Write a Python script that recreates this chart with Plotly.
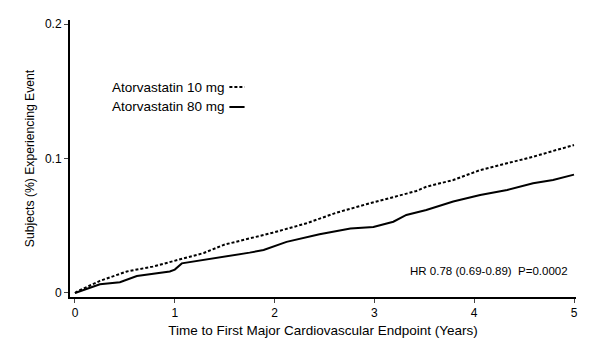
import plotly.graph_objects as go

years_10 = [0, 0.02, 0.25, 0.52, 0.78, 1.02, 1.29, 1.5, 1.65, 1.98, 2.32, 2.62, 2.92,
            3.19, 3.42, 3.52, 3.79, 4.06, 4.33, 4.59, 4.79, 5.0]
ator10 = [0, 0.001, 0.009, 0.016, 0.0196, 0.0245, 0.0297, 0.036, 0.0387, 0.0448, 0.0518,
          0.0597, 0.066, 0.0716, 0.0758, 0.079, 0.084, 0.0914, 0.0964, 0.1013, 0.1056, 0.110]
years_80 = [0, 0.25, 0.45, 0.62, 0.95, 1.0, 1.07, 1.29, 1.55, 1.75, 1.89, 2.12, 2.45,
            2.76, 2.99, 3.19, 3.32, 3.52, 3.79, 4.06, 4.33, 4.59, 4.79, 5.0]
ator80 = [0, 0.0065, 0.008, 0.0126, 0.016, 0.0174, 0.022, 0.0245, 0.028, 0.030, 0.032,
          0.038, 0.0436, 0.048, 0.049, 0.053, 0.058, 0.0617, 0.068, 0.0729, 0.0766,
          0.0816, 0.084, 0.088]
series_names = ["Atorvastatin 10 mg", "Atorvastatin 80 mg"]
x_ticks = [0, 1, 2, 3, 4, 5]
y_ticks = [0, 0.1, 0.2]
y_tick_labels = ["0", "0.1", "0.2"]

font = "Liberation Sans, Arial, sans-serif"

fig = go.Figure()
fig.add_trace(go.Scatter(x=years_10, y=ator10, mode="lines", name=series_names[0],
                         line=dict(color="black", width=2, dash="3px,2px")))
fig.add_trace(go.Scatter(x=years_80, y=ator80, mode="lines", name=series_names[1],
                         line=dict(color="black", width=2)))

# legend (text then line sample)
for i, (nm, dash) in enumerate(zip(series_names, ["3px,2px", "solid"])):
    yp = 0.758 - i * 0.072
    fig.add_annotation(xref="paper", yref="paper", x=0.31, y=yp, text=nm,
                       showarrow=False, xanchor="right", yanchor="middle",
                       font=dict(family=font, size=13.5, color="black"))
    fig.add_shape(type="line", xref="paper", yref="paper", x0=0.315, x1=0.345,
                  y0=yp, y1=yp, line=dict(color="black", width=2, dash=dash))

fig.add_annotation(xref="paper", yref="paper", x=0.988, y=0.095,
                   text="HR 0.78 (0.69-0.89)  P=0.0002", showarrow=False,
                   xanchor="right", yanchor="middle",
                   font=dict(family=font, size=11.5, color="black"))

fig.update_layout(
    width=606, height=360,
    margin=dict(l=70, r=30, t=20, b=63),
    paper_bgcolor="white", plot_bgcolor="white",
    showlegend=False,
    font=dict(family=font, size=12, color="black"),
    xaxis=dict(range=[-0.05, 5.02], tickvals=x_ticks, ticks="outside", ticklen=4,
               showline=True, linecolor="black", linewidth=2, showgrid=False,
               zeroline=False, tickfont=dict(size=12), automargin=False,
               title=dict(text="Time to First Major Cardiovascular Endpoint (Years)",
                          font=dict(size=13.5), standoff=6)),
    yaxis=dict(range=[-0.003, 0.203], tickvals=y_ticks, ticktext=y_tick_labels,
               ticks="outside", ticklen=4, showline=True, linecolor="black",
               linewidth=2, showgrid=False, zeroline=False, tickfont=dict(size=12),
               automargin=False,
               title=dict(text="Subjects (%) Experiencing Event",
                          font=dict(size=12.2), standoff=8)),
)

fig.write_html("out.html", config={"displayModeBar": False},
               post_script="document.body.style.margin='0';")
